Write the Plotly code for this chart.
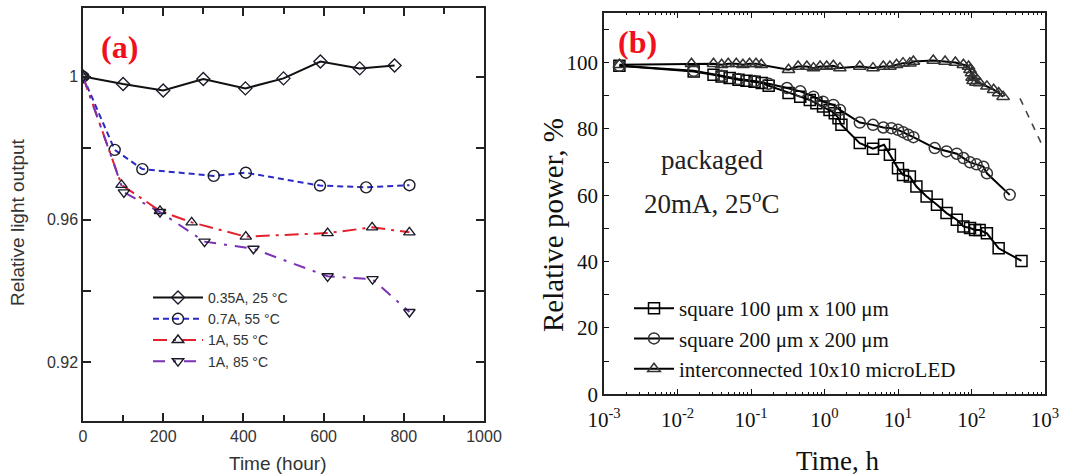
import plotly.graph_objects as go

# ---------------- Panel (a) data ----------------
a_t1 = [0, 100, 200, 300, 405, 500, 592, 690, 777]
a_v1 = [1.000, 0.9979, 0.9961, 0.9993, 0.9967, 0.9995, 1.0042, 1.0023, 1.0031]

a_t2 = [0, 79, 148, 326, 406, 591, 706, 814]
a_v2 = [1.000, 0.9795, 0.9741, 0.9722, 0.9731, 0.9695, 0.9690, 0.9696]

a_t3 = [0, 96, 192, 271, 406, 610, 721, 814]
a_v3 = [1.000, 0.9697, 0.9624, 0.9592, 0.9552, 0.9562, 0.9578, 0.9564]

a_t4 = [0, 102, 192, 303, 425, 610, 722, 814]
a_v4 = [1.000, 0.9676, 0.9621, 0.9538, 0.9518, 0.9441, 0.9433, 0.9341]

a_names = ["0.35A, 25 \u00b0C", "0.7A, 55 \u00b0C", "1A, 55 \u00b0C", "1A, 85 \u00b0C"]
a_xticks = [0, 200, 400, 600, 800, 1000]
a_yticks = [0.92, 0.96, 1.0]
a_yticktext = ["0.92", "0.96", "1"]

# ---------------- Panel (b) data ----------------
b_sq_t = [0.00162, 0.0166, 0.0309, 0.0398, 0.0513, 0.0676, 0.0871, 0.112, 0.140, 0.174,
          0.324, 0.468, 0.631, 0.776, 0.955, 1.17, 1.38, 1.55, 1.70, 3.02, 4.57, 6.46,
          7.76, 10.0, 11.7, 14.5, 17.8, 24.5, 33.9, 45.7, 63.1, 77.6, 95.5, 112, 129,
          162, 234, 479]
b_sq_v = [99.0, 97.3, 96.3, 95.8, 95.3, 94.8, 94.5, 94.2, 93.8, 93.0,
          90.8, 89.7, 88.7, 87.7, 86.7, 85.7, 84.7, 83.2, 81.2, 75.7, 74.0, 75.2,
          72.2, 68.1, 66.1, 65.6, 62.6, 59.6, 57.1, 54.6, 52.6, 50.6, 50.1, 49.5, 49.5,
          48.5, 44.0, 40.2]

b_ci_t = [0.00162, 0.0166, 0.0398, 0.0676, 0.112, 0.174, 0.309, 0.468, 0.708, 0.955,
          1.32, 1.62, 3.02, 4.57, 6.31, 8.13, 10.0, 11.7, 13.8, 16.2, 31.6, 45.7,
          63.1, 77.6, 95.5, 117, 145, 162, 331]
b_ci_v = [99.0, 97.5, 96.0, 95.0, 94.4, 93.6, 92.3, 91.3, 89.7, 88.2,
          87.2, 85.7, 81.9, 81.2, 80.4, 80.2, 79.7, 79.0, 78.2, 77.5, 74.2, 73.2,
          72.5, 71.2, 69.9, 69.3, 68.6, 66.6, 60.1]

b_tr_t = [0.00162, 0.0155, 0.0309, 0.0398, 0.049, 0.0631, 0.0776, 0.0955, 0.117, 0.138,
          0.324, 0.437, 0.575, 0.708, 0.871, 1.07, 1.32, 1.62, 3.02, 4.57, 6.31, 7.76,
          9.55, 11.7, 14.5, 16.2, 30.2, 43.7, 60.3, 77.6, 91.2, 95.5, 100, 102, 105,
          110, 115, 129, 162, 200, 234, 269]
b_tr_v = [99.3, 99.6, 99.6, 99.3, 99.6, 99.6, 99.3, 99.6, 99.6, 99.3,
          97.8, 98.8, 98.8, 98.3, 98.8, 98.8, 99.0, 98.3, 98.8, 98.3, 98.8, 98.8,
          99.3, 99.8, 99.8, 100.3, 100.6, 100.3, 100.0, 99.3, 98.8, 97.8, 96.8, 95.5, 94.5,
          95.8, 94.0, 93.8, 92.8, 91.8, 90.8, 89.7]

b_fit_t = [457, 658, 955]
b_fit_v = [89.2, 81.7, 74.2]

b_names = ["square 100 \u03bcm x 100 \u03bcm", "square 200 \u03bcm x 200 \u03bcm",
           "interconnected 10x10 microLED"]
b_yticks = [0, 20, 40, 60, 80, 100]
b_xticks = [0.001, 0.01, 0.1, 1, 10, 100, 1000]
b_xticktext = ["10<sup>-3</sup>", "10<sup>-2</sup>", "10<sup>-1</sup>", "10<sup>0</sup>",
               "10<sup>1</sup>", "10<sup>2</sup>", "10<sup>3</sup>"]

SANS = "Liberation Sans, Arial, sans-serif"
SERIF = "Liberation Serif, Times New Roman, serif"

fig = go.Figure()

# Panel (a) traces
a_styles = [
    dict(color="#111111", dash="solid", symbol="diamond-open", size=10),
    dict(color="#2a2ac4", dash="6px,4px", symbol="circle-open", size=11),
    dict(color="#e3202b", dash="14px,6px,3px,6px", symbol="triangle-up-open", size=10),
    dict(color="#7a32b4", dash="12px,8px,3px,8px", symbol="triangle-down-open", size=10),
]
for t, v, nm, st in zip([a_t1, a_t2, a_t3, a_t4], [a_v1, a_v2, a_v3, a_v4], a_names, a_styles):
    fig.add_trace(go.Scatter(
        x=t, y=v, name=nm, mode="lines+markers", xaxis="x", yaxis="y", legend="legend",
        line=dict(color=st["color"], width=2, dash=st["dash"]),
        marker=dict(symbol=st["symbol"], size=st["size"], color="#1a1a2a",
                    line=dict(width=1.4, color="#1a1a2a")),
    ))

# Panel (b) traces
b_sym = ["square-open", "circle-open", "triangle-up-open"]
for t, v, nm, sym, mc in zip([b_sq_t, b_ci_t, b_tr_t], [b_sq_v, b_ci_v, b_tr_v], b_names, b_sym,
                             ["#000000", "#333333", "#333333"]):
    fig.add_trace(go.Scatter(
        x=t, y=v, name=nm, mode="lines+markers", xaxis="x2", yaxis="y2", legend="legend2",
        line=dict(color="#000000", width=2),
        marker=dict(symbol=sym, size=11, color=mc, line=dict(width=1.5, color=mc)),
    ))
fig.add_trace(go.Scatter(
    x=b_fit_t, y=b_fit_v, mode="lines", xaxis="x2", yaxis="y2", showlegend=False,
    line=dict(color="#444444", width=1.6, dash="7px,7px"),
))

axis_common = dict(showline=True, linecolor="#222222", linewidth=1.5, mirror="allticks",
                   ticks="inside", showgrid=False, zeroline=False, automargin=False)

def ann(text, x, y, size, family, color, angle=0):
    return dict(text=text, x=x / 1081, y=(475 - y) / 475, xref="paper", yref="paper",
                xanchor="center", yanchor="middle", textangle=angle, showarrow=False,
                font=dict(family=family, size=size, color=color))

fig.update_layout(
    width=1081, height=475,
    margin=dict(l=0, r=0, t=0, b=0),
    paper_bgcolor="white", plot_bgcolor="white",
    xaxis=dict(domain=[83 / 1081, 484 / 1081], range=[0, 1000], tickvals=a_xticks,
               ticklen=8, tickwidth=1.5, tickcolor="#222222",
               minor=dict(dtick=100, ticks="inside", ticklen=6, tickcolor="#222222", tickwidth=1.5),
               tickfont=dict(family=SANS, size=16, color="#333333"), anchor="y",
               **axis_common),
    yaxis=dict(domain=[54 / 475, 467 / 475], range=[0.9036, 1.0192], tickvals=a_yticks,
               ticktext=a_yticktext, ticklen=8, tickwidth=1.5, tickcolor="#222222",
               minor=dict(dtick=0.02, ticks="inside", ticklen=8, tickcolor="#222222", tickwidth=1.5),
               tickfont=dict(family=SANS, size=16, color="#333333"), anchor="x",
               **axis_common),
    xaxis2=dict(domain=[604 / 1081, 1045 / 1081], type="log", range=[-3, 3],
                tickvals=b_xticks, ticktext=b_xticktext, ticklen=6, tickwidth=1.2,
                tickcolor="#111111", ticklabelstandoff=6,
                minor=dict(ticks="inside", ticklen=3, tickcolor="#111111", dtick="D1", tickwidth=1),
                tickfont=dict(family=SERIF, size=21, color="#111111"), anchor="y2",
                **axis_common),
    yaxis2=dict(domain=[80.7 / 475, 462.3 / 475], range=[0, 115], tickvals=b_yticks,
                ticklen=5, tickwidth=1.2, tickcolor="#111111",
                minor=dict(dtick=10, ticks="inside", ticklen=5, tickcolor="#111111", tickwidth=1.2),
                tickfont=dict(family=SERIF, size=21, color="#111111"), anchor="x2",
                **axis_common),
    legend=dict(x=148 / 1081, y=(475 - 282) / 475, xanchor="left", yanchor="top",
                bgcolor="rgba(0,0,0,0)", itemwidth=50, tracegroupgap=0,
                font=dict(family=SANS, size=14, color="#333333")),
    legend2=dict(x=629 / 1081, y=(475 - 288) / 475, xanchor="left", yanchor="top",
                 bgcolor="rgba(0,0,0,0)", itemwidth=40, tracegroupgap=0,
                 font=dict(family=SERIF, size=21, color="#111111")),
    annotations=[
        ann("Relative light output", 18, 222, 19, SANS, "#333333", -90),
        ann("Time (hour)", 277, 463, 19, SANS, "#333333"),
        ann("Relative power, %", 553, 225, 29, SERIF, "#111111", -90),
        ann("Time, h", 838, 461, 27, SERIF, "#111111"),
        ann("<b>(a)</b>", 119, 47, 32, SERIF, "#f01020"),
        ann("<b>(b)</b>", 637, 42, 32, SERIF, "#f01020"),
        ann("packaged", 712, 160, 27, SERIF, "#222222"),
        ann("20mA, 25<sup>o</sup>C", 711, 202, 27, SERIF, "#222222"),
    ],
)

fig.write_html("out.html")
